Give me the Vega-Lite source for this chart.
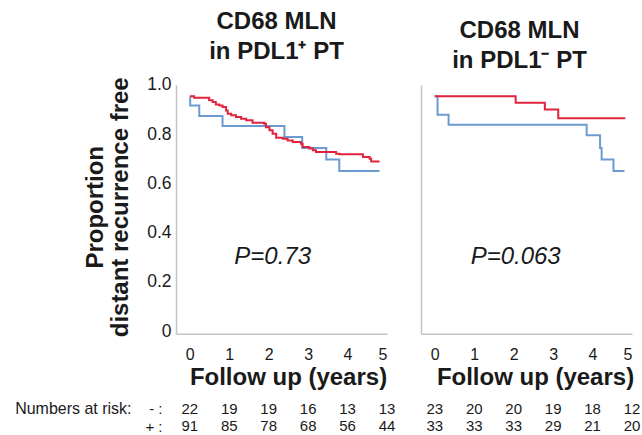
{
  "$schema": "https://vega.github.io/schema/vega-lite/v6.json",
  "padding": {"left": 14, "top": 9.8, "right": 0, "bottom": 0},
  "autosize": {"type": "pad"},
  "config": {
    "font": "Liberation Sans",
    "view": {"stroke": null},
    "axis": {"grid": false, "ticks": false, "domainColor": "#c4c4c4", "domainWidth": 1.5, "labelColor": "#1a1a1a", "titleColor": "#1a1a1a", "labelFont": "Liberation Sans", "titleFont": "Liberation Sans"},
    "title": {"font": "Liberation Sans", "color": "#1a1a1a"},
    "text": {"font": "Liberation Sans"}
  },
  "datasets": {
    "km": [
      {"panel": "L", "group": "-", "t": 0, "s": 0.950},
      {"panel": "L", "group": "-", "t": 0.01, "s": 0.916},
      {"panel": "L", "group": "-", "t": 0.24, "s": 0.873},
      {"panel": "L", "group": "-", "t": 0.83, "s": 0.833},
      {"panel": "L", "group": "-", "t": 2.40, "s": 0.788},
      {"panel": "L", "group": "-", "t": 2.85, "s": 0.743},
      {"panel": "L", "group": "-", "t": 3.46, "s": 0.697},
      {"panel": "L", "group": "-", "t": 3.79, "s": 0.650},
      {"panel": "L", "group": "-", "t": 4.81, "s": 0.650},
      {"panel": "L", "group": "+", "t": 0, "s": 0.954},
      {"panel": "L", "group": "+", "t": 0.11, "s": 0.947},
      {"panel": "L", "group": "+", "t": 0.49, "s": 0.937},
      {"panel": "L", "group": "+", "t": 0.58, "s": 0.930},
      {"panel": "L", "group": "+", "t": 0.66, "s": 0.920},
      {"panel": "L", "group": "+", "t": 0.75, "s": 0.916},
      {"panel": "L", "group": "+", "t": 0.83, "s": 0.910},
      {"panel": "L", "group": "+", "t": 0.92, "s": 0.896},
      {"panel": "L", "group": "+", "t": 0.96, "s": 0.882},
      {"panel": "L", "group": "+", "t": 1.05, "s": 0.876},
      {"panel": "L", "group": "+", "t": 1.17, "s": 0.869},
      {"panel": "L", "group": "+", "t": 1.30, "s": 0.862},
      {"panel": "L", "group": "+", "t": 1.43, "s": 0.856},
      {"panel": "L", "group": "+", "t": 1.59, "s": 0.846},
      {"panel": "L", "group": "+", "t": 1.89, "s": 0.842},
      {"panel": "L", "group": "+", "t": 1.93, "s": 0.828},
      {"panel": "L", "group": "+", "t": 2.02, "s": 0.815},
      {"panel": "L", "group": "+", "t": 2.10, "s": 0.801},
      {"panel": "L", "group": "+", "t": 2.19, "s": 0.785},
      {"panel": "L", "group": "+", "t": 2.36, "s": 0.781},
      {"panel": "L", "group": "+", "t": 2.48, "s": 0.774},
      {"panel": "L", "group": "+", "t": 2.61, "s": 0.768},
      {"panel": "L", "group": "+", "t": 2.82, "s": 0.761},
      {"panel": "L", "group": "+", "t": 2.86, "s": 0.747},
      {"panel": "L", "group": "+", "t": 3.03, "s": 0.741},
      {"panel": "L", "group": "+", "t": 3.12, "s": 0.734},
      {"panel": "L", "group": "+", "t": 3.20, "s": 0.727},
      {"panel": "L", "group": "+", "t": 3.71, "s": 0.720},
      {"panel": "L", "group": "+", "t": 3.79, "s": 0.718},
      {"panel": "L", "group": "+", "t": 4.39, "s": 0.707},
      {"panel": "L", "group": "+", "t": 4.56, "s": 0.700},
      {"panel": "L", "group": "+", "t": 4.60, "s": 0.689},
      {"panel": "L", "group": "+", "t": 4.81, "s": 0.689},
      {"panel": "R", "group": "-", "t": 0, "s": 0.954},
      {"panel": "R", "group": "-", "t": 0.07, "s": 0.878},
      {"panel": "R", "group": "-", "t": 0.35, "s": 0.838},
      {"panel": "R", "group": "-", "t": 3.85, "s": 0.795},
      {"panel": "R", "group": "-", "t": 4.19, "s": 0.743},
      {"panel": "R", "group": "-", "t": 4.23, "s": 0.697},
      {"panel": "R", "group": "-", "t": 4.53, "s": 0.650},
      {"panel": "R", "group": "-", "t": 4.81, "s": 0.650},
      {"panel": "R", "group": "+", "t": 0, "s": 0.954},
      {"panel": "R", "group": "+", "t": 2.05, "s": 0.927},
      {"panel": "R", "group": "+", "t": 2.79, "s": 0.900},
      {"panel": "R", "group": "+", "t": 3.13, "s": 0.864},
      {"panel": "R", "group": "+", "t": 4.83, "s": 0.864}
    ],
    "risk": [
      {"panel": "L", "group": "-", "t": 0, "n": 22},
      {"panel": "L", "group": "-", "t": 1, "n": 19},
      {"panel": "L", "group": "-", "t": 2, "n": 19},
      {"panel": "L", "group": "-", "t": 3, "n": 16},
      {"panel": "L", "group": "-", "t": 4, "n": 13},
      {"panel": "L", "group": "-", "t": 5, "n": 13},
      {"panel": "L", "group": "+", "t": 0, "n": 91},
      {"panel": "L", "group": "+", "t": 1, "n": 85},
      {"panel": "L", "group": "+", "t": 2, "n": 78},
      {"panel": "L", "group": "+", "t": 3, "n": 68},
      {"panel": "L", "group": "+", "t": 4, "n": 56},
      {"panel": "L", "group": "+", "t": 5, "n": 44},
      {"panel": "R", "group": "-", "t": 0, "n": 23},
      {"panel": "R", "group": "-", "t": 1, "n": 20},
      {"panel": "R", "group": "-", "t": 2, "n": 20},
      {"panel": "R", "group": "-", "t": 3, "n": 19},
      {"panel": "R", "group": "-", "t": 4, "n": 18},
      {"panel": "R", "group": "-", "t": 5, "n": 12},
      {"panel": "R", "group": "+", "t": 0, "n": 33},
      {"panel": "R", "group": "+", "t": 1, "n": 33},
      {"panel": "R", "group": "+", "t": 2, "n": 33},
      {"panel": "R", "group": "+", "t": 3, "n": 29},
      {"panel": "R", "group": "+", "t": 4, "n": 21},
      {"panel": "R", "group": "+", "t": 5, "n": 20}
    ]
  },
  "columns": 2,
  "align": "each",
  "bounds": "flush",
  "spacing": {"row": 66, "column": 34},
  "concat": [
    {
      "width": 211, "height": 249,
      "title": {"text": ["CD68 MLN", "in PDL1⁺ PT"], "fontSize": 24, "fontWeight": "bold", "lineHeight": 30.5, "anchor": "middle", "offset": 11.5, "dx": -5},
      "layer": [
        {
          "data": {"name": "km"},
          "transform": [{"filter": "datum.panel == 'L'"}],
          "mark": {"type": "line", "interpolate": "step-after", "strokeWidth": 2},
          "encoding": {
            "x": {"field": "t", "type": "quantitative", "scale": {"domain": [-0.35, 5], "nice": false, "zero": false},
                  "axis": {"values": [0, 1, 2, 3, 4, 5], "title": "Follow up (years)", "titleFontSize": 24, "titleFontWeight": "bold", "labelFontSize": 16, "labelPadding": 13, "titlePadding": 3, "titleX": 112}},
            "y": {"field": "s", "type": "quantitative", "scale": {"domain": [-0.011, 1], "nice": false, "zero": false},
                  "axis": {"values": [0, 0.2, 0.4, 0.6, 0.8, 1], "labelExpr": "datum.value == 0 ? '0' : format(datum.value, '.1f')", "labelFontSize": 17.5, "labelPadding": 5,
                           "title": ["Proportion", "distant recurrence free"], "titleFontSize": 24, "titleFontWeight": "bold", "titleLineHeight": 26, "titleX": -81, "titleY": 122, "titleBaseline": "middle"}},
            "color": {"field": "group", "type": "nominal", "scale": {"domain": ["-", "+"], "range": ["#6b9bd2", "#e2233d"]}, "legend": null}
          }
        },
        {
          "data": {"values": [{"p": "P=0.73"}]},
          "mark": {"type": "text", "fontSize": 24, "fontStyle": "italic", "color": "#1a1a1a"},
          "encoding": {"x": {"datum": 2.1, "type": "quantitative"}, "y": {"datum": 0.3, "type": "quantitative"}, "text": {"field": "p"}}
        }
      ]
    },
    {
      "width": 211, "height": 249,
      "title": {"text": ["CD68 MLN", "in PDL1⁻ PT"], "fontSize": 24, "fontWeight": "bold", "lineHeight": 30.5, "anchor": "middle", "offset": 11.5, "dx": -7},
      "layer": [
        {
          "data": {"name": "km"},
          "transform": [{"filter": "datum.panel == 'R'"}],
          "mark": {"type": "line", "interpolate": "step-after", "strokeWidth": 2},
          "encoding": {
            "x": {"field": "t", "type": "quantitative", "scale": {"domain": [-0.35, 5], "nice": false, "zero": false},
                  "axis": {"values": [0, 1, 2, 3, 4, 5], "title": "Follow up (years)", "titleFontSize": 24, "titleFontWeight": "bold", "labelFontSize": 16, "labelPadding": 13, "titlePadding": 3, "titleX": 114}},
            "y": {"field": "s", "type": "quantitative", "scale": {"domain": [-0.011, 1], "nice": false, "zero": false},
                  "axis": {"values": [], "labels": false, "title": null}},
            "color": {"field": "group", "type": "nominal", "scale": {"domain": ["-", "+"], "range": ["#6b9bd2", "#e2233d"]}, "legend": null}
          }
        },
        {
          "data": {"values": [{"p": "P=0.063"}]},
          "mark": {"type": "text", "fontSize": 24, "fontStyle": "italic", "color": "#1a1a1a"},
          "encoding": {"x": {"datum": 2.05, "type": "quantitative"}, "y": {"datum": 0.3, "type": "quantitative"}, "text": {"field": "p"}}
        }
      ]
    },
    {
      "width": 211, "height": 35,
      "data": {"name": "risk"},
      "transform": [{"filter": "datum.panel == 'L'"}],
      "mark": {"type": "text", "fontSize": 15, "color": "#1a1a1a"},
      "encoding": {
        "x": {"field": "t", "type": "quantitative", "scale": {"domain": [-0.35, 5], "nice": false, "zero": false}, "axis": null},
        "y": {"field": "group", "type": "ordinal", "sort": ["-", "+"], "scale": {"type": "point", "padding": 0.5},
              "axis": {"domain": false, "labelFontSize": 15, "labelPadding": 14, "labelExpr": "datum.value + ' :'",
                       "title": "Numbers at risk:", "titleAngle": 0, "titleFontSize": 16, "titleFontWeight": "normal", "titleAlign": "right", "titleBaseline": "middle", "titleX": -45, "titleY": 8.75}},
        "text": {"field": "n"}
      }
    },
    {
      "width": 211, "height": 35,
      "data": {"name": "risk"},
      "transform": [{"filter": "datum.panel == 'R'"}],
      "mark": {"type": "text", "fontSize": 15, "color": "#1a1a1a"},
      "encoding": {
        "x": {"field": "t", "type": "quantitative", "scale": {"domain": [-0.35, 5], "nice": false, "zero": false}, "axis": null},
        "y": {"field": "group", "type": "ordinal", "sort": ["-", "+"], "scale": {"type": "point", "padding": 0.5}, "axis": null},
        "text": {"field": "n"}
      }
    }
  ]
}
